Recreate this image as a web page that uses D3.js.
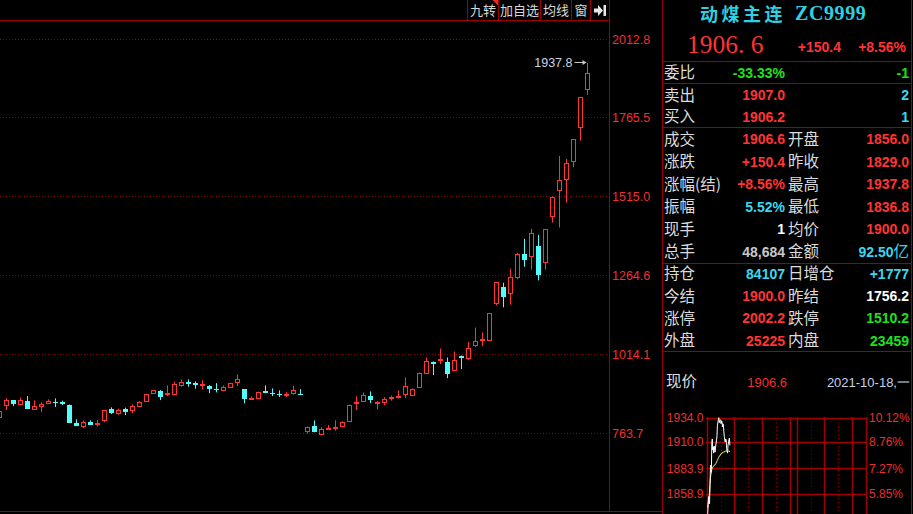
<!DOCTYPE html>
<html><head><meta charset="utf-8">
<script src="https://cdn.jsdelivr.net/npm/d3@7"></script>
<style>
html,body{margin:0;padding:0;background:#000;overflow:hidden}
svg{display:block}
</style></head><body>
<svg id="c" width="913" height="514"></svg>
<script>
// Daily bars, oldest first
const open  = [816.5,853.2,868.0,857.6,864.9,841.8,851.3,860.8,863.9,862.7,852.2,795.3,786.8,798.5,794.4,805.8,839.6,829.2,839.6,836.4,849.9,867.1,891.1,896.5,888.0,888.0,916.4,925.9,922.8,916.4,912.3,902.8,900.6,910.1,925.9,902.8,872.2,875.3,896.5,891.1,888.0,886.1,890.2,888.0,770.0,785.8,762.7,778.6,779.5,786.8,802.6,860.8,865.8,880.7,858.6,863.9,875.3,877.5,889.2,884.8,910.1,955.6,989.2,995.5,988.2,963.9,1007.2,1001.8,1042.9,1060.0,1060.0,1175.7,1228.6,1207.4,1259.2,1332.9,1324.4,1358.2,1305.4,1454.0,1535.3,1569.1,1626.1,1735.5,1856.0];
const high  = [836.0,875.3,868.0,877.5,881.6,868.0,862.7,871.2,874.4,867.1,855.4,808.0,803.9,804.8,805.8,836.4,845.9,841.8,845.0,855.4,865.8,889.2,901.9,900.6,915.5,927.2,934.5,934.5,928.1,931.3,916.4,922.8,915.5,924.0,950.3,902.8,880.7,895.6,915.5,906.0,899.7,894.3,914.5,903.8,784.9,804.8,782.7,789.9,804.8,801.6,854.5,880.7,893.4,896.5,865.8,878.5,882.9,899.7,940.8,906.0,956.6,1004.0,991.4,1032.5,1004.0,1023.0,1010.4,1053.7,1098.9,1083.1,1145.4,1243.4,1241.2,1285.5,1336.1,1380.3,1412.0,1393.0,1411.0,1514.1,1642.8,1633.3,1695.6,1829.0,1937.8];
const low   = [813.0,837.4,849.9,853.2,841.8,841.8,831.0,856.3,846.9,853.2,796.3,786.8,780.5,791.2,785.8,799.4,824.7,822.8,821.6,827.9,846.9,862.7,888.0,869.0,881.6,888.0,911.4,911.4,905.1,902.8,891.1,893.4,896.5,906.9,913.3,858.6,872.2,875.3,891.1,881.6,878.5,878.5,886.1,886.1,762.7,766.9,759.6,774.1,772.2,783.6,802.6,837.4,862.7,859.5,839.6,852.2,867.1,874.4,875.3,881.6,910.1,955.6,948.1,982.8,938.6,963.9,967.0,995.5,1036.6,1039.8,1060.0,1169.4,1163.1,1171.6,1251.6,1291.8,1282.3,1248.5,1282.3,1431.9,1416.1,1495.1,1607.1,1691.2,1836.8];
const close = [834.2,869.0,856.3,869.0,841.8,849.1,855.4,865.8,860.8,857.6,796.3,786.8,798.5,791.2,797.5,836.4,827.9,837.4,831.0,849.1,862.7,889.2,901.9,878.5,890.2,918.6,925.9,918.6,916.4,918.6,902.8,899.7,909.2,924.0,934.5,872.2,875.3,895.6,891.1,889.2,886.1,888.0,901.9,886.1,784.9,766.9,777.3,781.7,782.7,798.5,854.5,862.7,886.1,868.0,862.7,872.2,878.5,880.7,912.3,902.8,953.4,991.4,984.1,998.7,951.2,994.5,1001.8,1034.7,1056.8,1064.1,1145.4,1243.4,1194.7,1259.2,1332.0,1313.9,1398.4,1266.5,1411.0,1514.1,1566.9,1619.7,1695.6,1829.0,1906.6];

const priceTicks = [2012.8, 1765.5, 1515.0, 1264.6, 1014.1, 763.7];

// Intraday minute prices and running average
const minutePrice = [1839,1848,1856,1852,1849,1868,1887,1880,1884,1910,1913,1902,1905,1899,1906,1903,1900,1905,1908,1912,1915,1926,1929,1932,1934,1929,1931,1932,1930,1928,1931,1930,1925,1928,1927,1920,1915,1912,1910,1913,1912,1904,1901,1899,1907,1909,1912,1914,1906.6];
const minuteAvg   = [1845,1850,1853,1856,1860,1868,1875,1878,1880,1883,1884,1885,1886,1886,1887,1887,1888,1888,1889,1890,1891,1892,1893,1894,1895,1896,1896,1897,1898,1898,1899,1899,1899,1900,1900,1900,1900,1901,1901,1901,1901,1901,1901,1901,1901,1901,1901,1901,1900];
const miniTicks = [1934.0, 1910.0, 1883.9, 1858.9];
const miniPct   = ["10.12%", "8.76%", "7.27%", "5.85%"];
const sessionMajor = [0, 60, 120, 180, 195, 255, 315, 345];
const sessionMinor = [30, 90, 150, 225, 285];
const sessionMinutes = 345;

const toolButtons = ["九转", "加自选", "均线", "窗"];

const RED = "#ff3434", CYAN = "#54fcfc", LINE = "#a00000", DOT = "#8a0000";
const GREEN = "#1ee01e", SKY = "#3ad8ee", WHITE = "#ffffff", GRAY = "#c8c8c8", LABEL = "#dcdcdc";
const CJK = "'Noto Sans CJK SC', sans-serif", NUM = "'Liberation Sans', Arial, sans-serif";

const svg = d3.select("#c");
svg.append("rect").attr("width", 913).attr("height", 514).attr("fill", "#000");

// ---- Candlestick chart ----
const N = close.length;
const x = d3.scaleBand().domain(d3.range(N)).range([-4, -4 + 7 * N]);
const cx = i => x(i) + x.bandwidth() / 2;
const y = d3.scaleLinear().domain([763.7, 2012.8]).range([433.3, 39.3]);

const grid = svg.append("g");
grid.selectAll("line").data(priceTicks).join("line")
  .attr("x1", 0).attr("x2", 608)
  .attr("y1", d => Math.round(y(d)) + 0.5).attr("y2", d => Math.round(y(d)) + 0.5)
  .attr("stroke", DOT).attr("stroke-dasharray", "1,2");

const yAxis = d3.axisRight(y).tickValues(priceTicks).tickFormat(d3.format(".1f")).tickSize(0).tickPadding(0);
const ag = svg.append("g").attr("transform", "translate(612,0)").call(yAxis);
ag.select(".domain").remove();
ag.selectAll("text").attr("fill", "#f03030").attr("font-family", NUM).attr("font-size", 12.5).attr("dy", "0.35em");

const candles = svg.append("g");
d3.range(N).forEach(i => {
  const o = open[i], c = close[i], h = high[i], l = low[i];
  const up = c >= o;
  const xc = cx(i);
  const yT = Math.round(y(Math.max(o, c))), yB = Math.round(y(Math.min(o, c)));
  const g = candles.append("g");
  if (up) {
    g.append("line").attr("x1", xc).attr("x2", xc).attr("y1", y(h)).attr("y2", yT + 0.5).attr("stroke", RED);
    g.append("line").attr("x1", xc).attr("x2", xc).attr("y1", yB + 0.5).attr("y2", y(l)).attr("stroke", RED);
    g.append("rect").attr("x", xc - 2).attr("y", yT + 0.5).attr("width", 4).attr("height", yB - yT)
      .attr("fill", "#000").attr("stroke", RED);
  } else {
    g.append("line").attr("x1", xc).attr("x2", xc).attr("y1", y(h)).attr("y2", y(l)).attr("stroke", CYAN);
    g.append("rect").attr("x", xc - 2.5).attr("y", yT).attr("width", 5).attr("height", Math.max(yB - yT, 1))
      .attr("fill", CYAN);
  }
});

// Highest price marker
const iMax = d3.maxIndex(high);
const yMax = y(high[iMax]);
svg.append("text").attr("x", cx(iMax) - 15).attr("y", yMax).attr("dy", "0.35em")
  .attr("text-anchor", "end").attr("fill", "#c8d4e4").attr("font-family", NUM).attr("font-size", 12.5)
  .text(d3.format(".1f")(high[iMax]));
svg.append("line").attr("x1", cx(iMax) - 13).attr("x2", cx(iMax) - 4).attr("y1", Math.round(yMax) - 0.5).attr("y2", Math.round(yMax) - 0.5)
  .attr("stroke", "#c8c8c8");
svg.append("path").attr("d", `M${cx(iMax) - 1},${Math.round(yMax) - 0.5} l-4,-2.5 v5 z`).attr("fill", "#c8c8c8");

// Frame lines
svg.append("line").attr("x1", 609.5).attr("x2", 609.5).attr("y1", 0).attr("y2", 512).attr("stroke", LINE);
svg.append("line").attr("x1", 0).attr("x2", 662).attr("y1", 511.5).attr("y2", 511.5).attr("stroke", LINE);
svg.append("line").attr("x1", 0).attr("x2", 609).attr("y1", 20.5).attr("y2", 20.5).attr("stroke", LINE);

// ---- Toolbar ----
const btnEdges = [467.5, 498.5, 540.5, 571.5, 590.5];
svg.selectAll(".sep").data(btnEdges).join("line").attr("class", "sep")
  .attr("x1", d => d).attr("x2", d => d).attr("y1", 0).attr("y2", 20).attr("stroke", LINE);
svg.selectAll(".btn").data(toolButtons).join("text").attr("class", "btn")
  .attr("x", (d, i) => (btnEdges[i] + btnEdges[i + 1]) / 2).attr("y", 15)
  .attr("text-anchor", "middle").attr("fill", "#d8d8d8").attr("font-family", CJK).attr("font-size", 13)
  .text(d => d);
svg.append("path").attr("d", "M492.5,0 H498 V5.5 Z").attr("fill", "#ff2020");
svg.append("path").attr("d", "M594,8.5 h4 v-3.5 l5,5.5 l-5,5.5 v-3.5 h-4 z").attr("fill", "#e8e8e8");
svg.append("rect").attr("x", 603.5).attr("y", 5).attr("width", 2.5).attr("height", 11).attr("fill", "#e8e8e8");

// ---- Quote panel ----
const P = svg.append("g");
P.append("line").attr("x1", 662.5).attr("x2", 662.5).attr("y1", 0).attr("y2", 514).attr("stroke", LINE);
P.append("line").attr("x1", 911.5).attr("x2", 911.5).attr("y1", 0).attr("y2", 514).attr("stroke", LINE);
[61.5, 83.5, 127.5, 263.5, 351.5].forEach(yy =>
  P.append("line").attr("x1", 662).attr("x2", 912).attr("y1", yy).attr("y2", yy).attr("stroke", LINE));

P.append("text").attr("x", 700).attr("y", 21).attr("fill", "#2ed0e2")
  .attr("font-family", CJK).attr("font-size", 18).attr("font-weight", 700).attr("letter-spacing", 3.5).text("动煤主连");
P.append("text").attr("x", 795).attr("y", 20).attr("fill", "#2ed0e2")
  .attr("font-family", "'Liberation Serif', serif").attr("font-size", 20).attr("font-weight", 700).attr("letter-spacing", 0.6).text("ZC9999");

P.append("text").attr("x", 687).attr("y", 52.5).attr("fill", RED).attr("font-family", "'Liberation Serif', serif")
  .attr("font-size", 25.5).text("1906. 6");
P.append("text").attr("x", 841).attr("y", 52).attr("text-anchor", "end").attr("fill", RED)
  .attr("font-family", NUM).attr("font-weight", 700).attr("font-size", 14).text("+150.4");
P.append("text").attr("x", 906).attr("y", 52).attr("text-anchor", "end").attr("fill", RED)
  .attr("font-family", NUM).attr("font-weight", 700).attr("font-size", 14).text("+8.56%");

// label, value, colour, label2, value2, colour2
const rows = [
  [72.5, "委比", "-33.33%", GREEN, "", "-1", GREEN],
  [95, "卖出", "1907.0", RED, "", "2", SKY],
  [116.5, "买入", "1906.2", RED, "", "1", SKY],
  [139, "成交", "1906.6", RED, "开盘", "1856.0", RED],
  [161.5, "涨跌", "+150.4", RED, "昨收", "1829.0", RED],
  [184, "涨幅(结)", "+8.56%", RED, "最高", "1937.8", RED],
  [206.5, "振幅", "5.52%", SKY, "最低", "1836.8", RED],
  [229, "现手", "1", WHITE, "均价", "1900.0", RED],
  [251.5, "总手", "48,684", GRAY, "金额", "92.50亿", SKY],
  [273.5, "持仓", "84107", SKY, "日增仓", "+1777", SKY],
  [296, "今结", "1900.0", RED, "昨结", "1756.2", WHITE],
  [318, "涨停", "2002.2", RED, "跌停", "1510.2", GREEN],
  [340.5, "外盘", "25225", RED, "内盘", "23459", GREEN]
];
rows.forEach(r => {
  const [yy, l1, v1, c1, l2, v2, c2] = r;
  P.append("text").attr("x", 664).attr("y", yy + 5.5).attr("fill", LABEL).attr("font-family", CJK).attr("font-size", 15.5).text(l1);
  P.append("text").attr("x", 785).attr("y", yy + 5).attr("text-anchor", "end").attr("fill", c1)
    .attr("font-family", NUM).attr("font-weight", 700).attr("font-size", 14).text(v1);
  if (l2) P.append("text").attr("x", 788).attr("y", yy + 5.5).attr("fill", LABEL).attr("font-family", CJK).attr("font-size", 15.5).text(l2);
  const t2 = P.append("text").attr("x", 909).attr("y", yy + 5).attr("text-anchor", "end").attr("fill", c2)
    .attr("font-family", NUM).attr("font-weight", 700).attr("font-size", 14);
  if (v2.endsWith("亿")) {
    t2.append("tspan").text(v2.slice(0, -1));
    t2.append("tspan").attr("font-family", CJK).attr("font-weight", 400).attr("font-size", 15.5).text("亿");
  } else t2.text(v2);
});

P.append("text").attr("x", 666).attr("y", 387).attr("fill", LABEL).attr("font-family", CJK).attr("font-size", 15.5).text("现价");
P.append("text").attr("x", 787).attr("y", 386.5).attr("text-anchor", "end").attr("fill", "#f03030")
  .attr("font-family", NUM).attr("font-size", 13).text("1906.6");
P.append("text").attr("x", 910).attr("y", 387).attr("text-anchor", "end").attr("fill", "#c4d0ec")
  .attr("font-family", NUM).attr("font-size", 13).text("2021-10-18,一");

// ---- Intraday mini chart ----
const mx = d3.scaleLinear().domain([0, sessionMinutes]).range([706.7, 866]);
const my = d3.scaleLinear().domain([1858.9, 1934.0]).range([493.7, 417.7]);
const M = svg.append("g");
M.selectAll(".mh").data(miniTicks).join("line").attr("class", "mh")
  .attr("x1", 706).attr("x2", 867).attr("y1", d => Math.round(my(d)) + 0.5).attr("y2", d => Math.round(my(d)) + 0.5)
  .attr("stroke", LINE).attr("stroke-width", 1.5);
M.selectAll(".mv").data(sessionMajor).join("line").attr("class", "mv")
  .attr("x1", d => Math.round(mx(d)) + 0.5).attr("x2", d => Math.round(mx(d)) + 0.5)
  .attr("y1", 417).attr("y2", 514).attr("stroke", LINE).attr("stroke-width", 1.5);
M.selectAll(".md").data(sessionMinor).join("line").attr("class", "md")
  .attr("x1", d => Math.round(mx(d)) + 0.5).attr("x2", d => Math.round(mx(d)) + 0.5)
  .attr("y1", 418).attr("y2", 514).attr("stroke", DOT).attr("stroke-dasharray", "1,3");
M.selectAll(".ml").data(miniTicks).join("text").attr("class", "ml")
  .attr("x", 703.5).attr("y", d => my(d)).attr("dy", "0.36em").attr("text-anchor", "end")
  .attr("fill", "#e83030").attr("font-family", NUM).attr("font-size", 12).text(d => d3.format(".1f")(d));
M.selectAll(".mr").data(miniPct).join("text").attr("class", "mr")
  .attr("x", 869).attr("y", (d, i) => my(miniTicks[i])).attr("dy", "0.36em")
  .attr("fill", "#e83030").attr("font-family", NUM).attr("font-size", 12).text(d => d);

M.append("path").datum(minuteAvg)
  .attr("d", d3.line().x((d, i) => mx(i) + 1).y(d => my(d)))
  .attr("fill", "none").attr("stroke", "#f0f070").attr("stroke-width", 1);
M.append("path").datum(minutePrice)
  .attr("d", d3.line().x((d, i) => mx(i) + 1).y(d => my(d)))
  .attr("fill", "none").attr("stroke", "#ffffff").attr("stroke-width", 1);
</script>
</body></html>
